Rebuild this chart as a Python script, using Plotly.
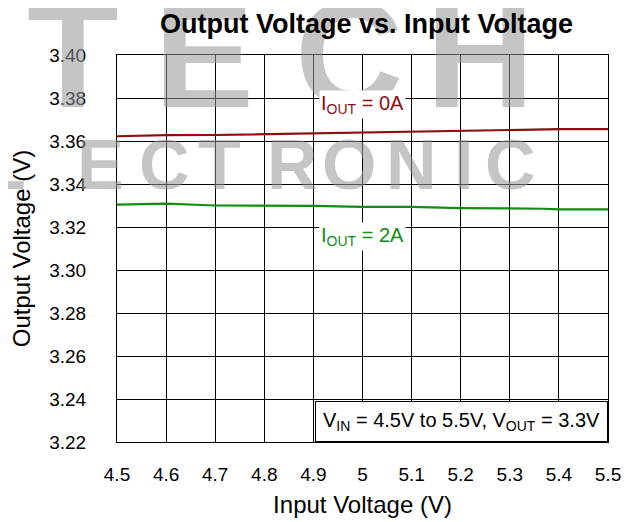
import plotly.graph_objects as go

# input voltage (V)
vin = [4.5, 4.6, 4.7, 4.8, 4.9, 5.0, 5.1, 5.2, 5.3, 5.37, 5.4, 5.5]
# output voltage (V) at IOUT = 0A and IOUT = 2A
vout_0a = [3.3622, 3.3627, 3.3628, 3.3632, 3.3636, 3.3639, 3.3643, 3.3648, 3.3649, 3.3655, 3.3655, 3.3655]
vout_2a = [3.3304, 3.3309, 3.3300, 3.3300, 3.3298, 3.3294, 3.3294, 3.3288, 3.3288, 3.3285, 3.3282, 3.3282]

x_ticks = [4.5, 4.6, 4.7, 4.8, 4.9, 5.0, 5.1, 5.2, 5.3, 5.4, 5.5]
y_ticks = [3.22, 3.24, 3.26, 3.28, 3.30, 3.32, 3.34, 3.36, 3.38, 3.40]

# watermark letters (pixel centre x on the page)
wm_big = [("T", 64), ("E", 197), ("C", 345), ("H", 478)]
wm_small = [("L", -5), ("E", 92), ("C", 157), ("T", 213), ("R", 287), ("O", 345),
            ("N", 408), ("I", 461), ("C", 509)]

RED = "#8b0f0f"
GREEN = "#138c13"
FONT = "Liberation Sans, Arial, sans-serif"

# page has an 8px body margin
OFF = 8
L, R, T, B = 101, 37, 47, 88
W, H = 637, 522
pw, ph = W - L - R, H - T - B


def px(x):
    return (x - OFF - L) / pw


def py(y):
    return (OFF + H - B - y) / ph


fig = go.Figure()
fig.add_trace(go.Scatter(x=vin, y=vout_0a, mode="lines", line=dict(color=RED, width=2.2),
                         showlegend=False))
fig.add_trace(go.Scatter(x=vin, y=vout_2a, mode="lines", line=dict(color=GREEN, width=2.2),
                         showlegend=False))

ann = []
wm_col = "rgba(150,150,150,0.55)"
for ch, cx in wm_big:
    ann.append(dict(text="<b>" + ch + "</b>", x=px(cx), y=py(55), xref="paper", yref="paper",
                    showarrow=False, xanchor="center", yanchor="middle",
                    font=dict(family=FONT, size=150, color=wm_col)))
for ch, cx in wm_small:
    ann.append(dict(text="<b>" + ch + "</b>", x=px(cx), y=py(165), xref="paper", yref="paper",
                    showarrow=False, xanchor="center", yanchor="middle",
                    font=dict(family=FONT, size=70, color=wm_col)))

ann.append(dict(text="<b>Output Voltage vs. Input Voltage</b>", x=px(363), y=py(24),
                xref="paper", yref="paper", showarrow=False, xanchor="center", yanchor="middle",
                font=dict(family=FONT, size=27, color="black")))
ann.append(dict(text="I<sub>OUT</sub> = 0A", x=5.0, y=3.3772, showarrow=False,
                font=dict(family=FONT, size=20, color=RED), bgcolor="white", borderpad=1))
ann.append(dict(text="I<sub>OUT</sub> = 2A", x=5.0, y=3.3157, showarrow=False,
                font=dict(family=FONT, size=20, color=GREEN), bgcolor="white", borderpad=1))
ann.append(dict(text="V<sub>IN</sub> = 4.5V to 5.5V, V<sub>OUT</sub> = 3.3V", x=1, y=0,
                xref="paper", yref="paper", xanchor="right", yanchor="bottom", showarrow=False,
                font=dict(family=FONT, size=20, color="black"), bgcolor="white",
                bordercolor="black", borderwidth=1, borderpad=7))

fig.update_layout(
    width=W, height=H,
    margin=dict(l=L, r=R, t=T, b=B),
    paper_bgcolor="white", plot_bgcolor="white",
    font=dict(family=FONT, size=19, color="black"),
    annotations=ann,
)
fig.update_xaxes(range=[4.5, 5.5], tickvals=x_ticks, showgrid=True, gridcolor="black",
                 gridwidth=1, showline=True, linecolor="black", linewidth=1, mirror=True,
                 ticks="inside", ticklen=5, tickcolor="black", zeroline=False,
                 tickfont=dict(size=19), ticklabelstandoff=15,
                 title=dict(text="Input Voltage (V)", font=dict(size=24), standoff=12))
fig.update_yaxes(range=[3.22, 3.40], tickvals=y_ticks, tickformat=".2f", showgrid=True,
                 gridcolor="black", gridwidth=1, showline=True, linecolor="black",
                 linewidth=1, mirror=True, ticks="", zeroline=False,
                 tickfont=dict(size=19), ticklabelstandoff=26,
                 title=dict(text="Output Voltage (V)", font=dict(size=24), standoff=12))

fig.write_html("out.html")
